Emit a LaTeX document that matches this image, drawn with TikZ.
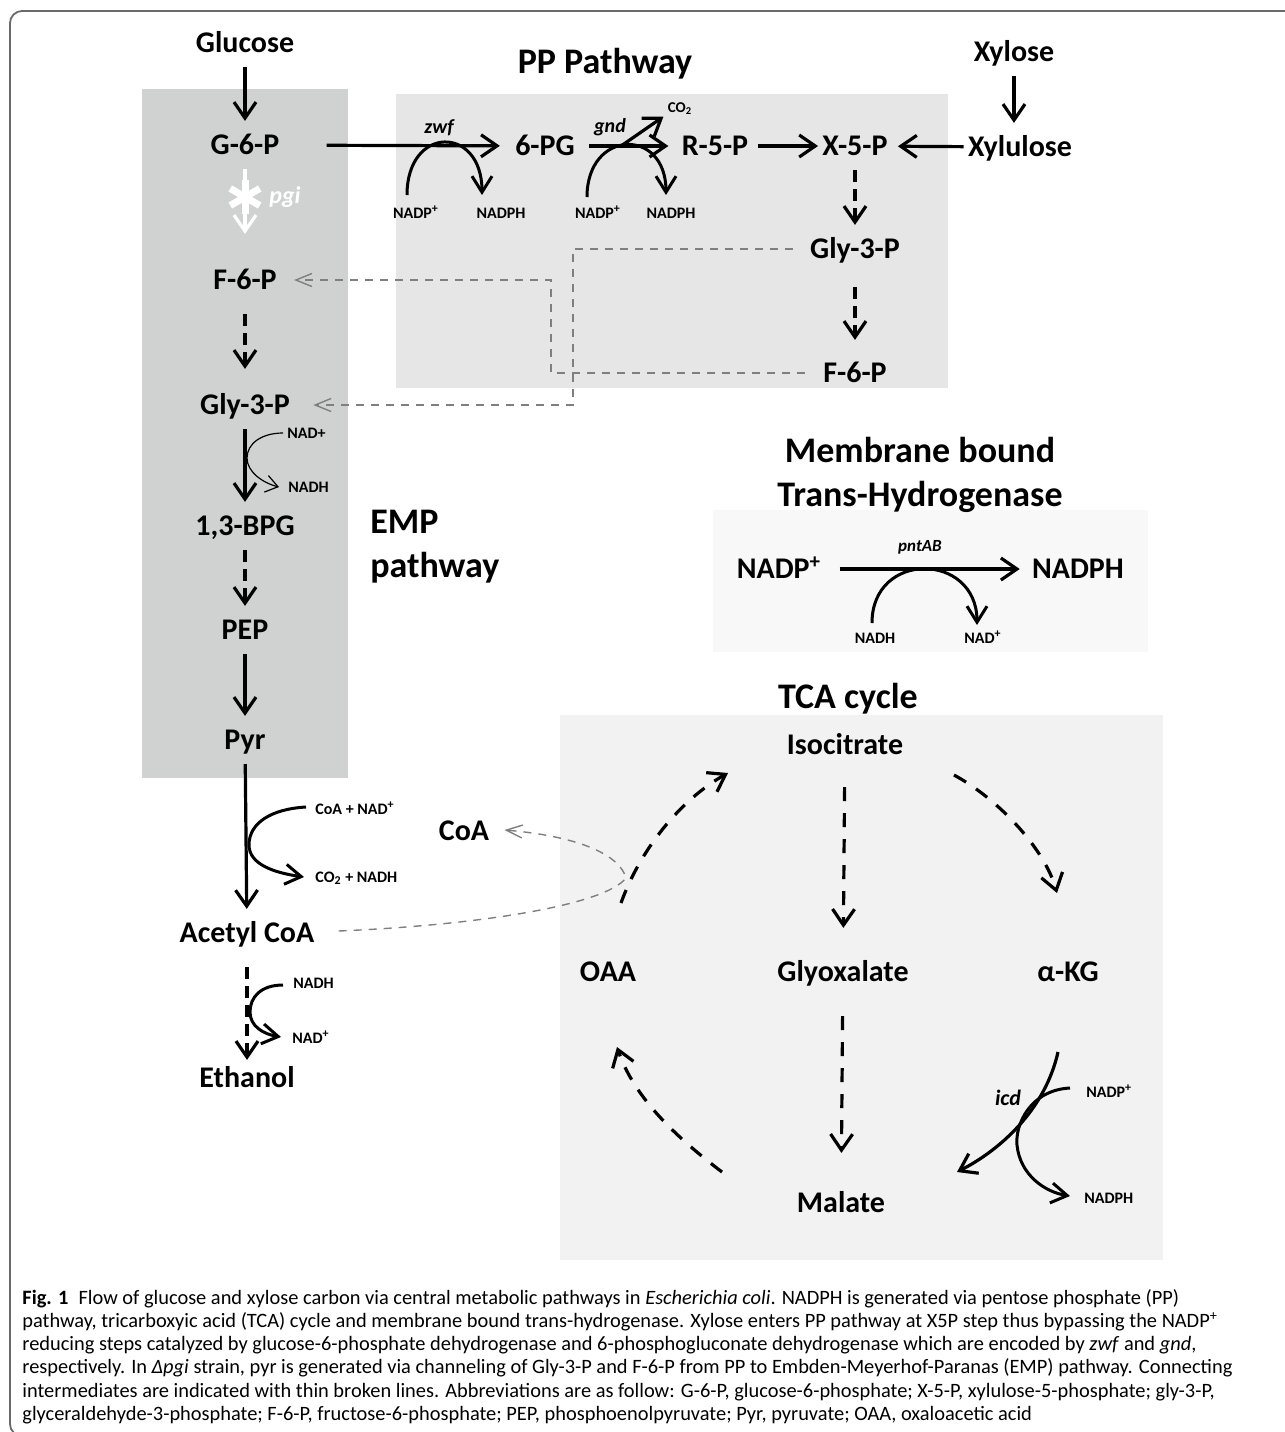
\documentclass[tikz,border=0pt]{standalone}
\usepackage{fontspec}
\setmainfont{Carlito}
\usepackage{xcolor}
\usepackage{tikz}
\usetikzlibrary{positioning,calc,arrows.meta}

\definecolor{empgray}{HTML}{D0D2D1}
\definecolor{ppgray}{HTML}{E6E6E6}
\definecolor{memgray}{HTML}{F8F8F8}
\definecolor{tcagray}{HTML}{F2F2F2}
\definecolor{linkgray}{HTML}{7F7F7F}
\definecolor{framegray}{HTML}{6A6A6A}

\begin{document}
\begin{tikzpicture}[x=0.5pt, y=-0.5pt,
    met/.style={font=\bfseries\fontsize{15}{18}\selectfont, text height=9.7pt, text depth=0pt, inner xsep=2pt, inner ysep=7pt},
    cof/.style={font=\bfseries\fontsize{8}{10}\selectfont, text height=5.2pt, text depth=0pt, inner sep=2pt},
    gene/.style={font=\bfseries\itshape\fontsize{10}{12}\selectfont, inner sep=0pt},
    title/.style={font=\bfseries\fontsize{18}{22}\selectfont, inner sep=0pt},
    flux/.style={line width=1.6pt, -{Straight Barb[length=8pt,width=11pt]}},
    fluxd/.style={flux, dash pattern=on 6pt off 3.5pt},
    tcad/.style={flux, dash pattern=on 7pt off 6pt},
    cofarc/.style={line width=1.5pt, -{Straight Barb[length=8pt,width=10pt]}},
    thinarc/.style={line width=0.6pt, -{Straight Barb[length=6pt,width=8.5pt]}},
    link/.style={draw=linkgray, line width=0.7pt, dash pattern=on 4pt off 3.5pt, -{Straight Barb[length=8pt,width=6.5pt]}}]

    \useasboundingbox (0,0) rectangle (1285,1432);
    \clip (0,0) rectangle (1285,1432);
    \draw [framegray, line width=0.9pt, rounded corners=6pt] (1320,11) -- (10,11) -- (10,1436) -- (1320,1436);

    \fill [empgray] (142,89) rectangle (348,778);
    \fill [ppgray] (396,94) rectangle (948,388);
    \fill [memgray] (713,510) rectangle (1148,652);
    \fill [tcagray] (560,715) rectangle (1163,1260);

    \node [title, anchor=base] (pptitle) at (605,73) {PP Pathway};
    \node [title, anchor=west, align=left] (emptitle) at (370,547) {EMP\\pathway};
    \node [title, align=center] (memtitle) at (920,475) {Membrane bound\\Trans-Hydrogenase};
    \node [title, anchor=base] (tcatitle) at (848,708) {TCA cycle};

    \node [met] (glc) at (245,43) {Glucose};
    \node [met] (g6p) at (245,145) {G-6-P};
    \node [met] (f6p) at (245,280) {F-6-P};
    \node [met] (glya) at (245,405) {Gly-3-P};
    \node [met] (bpg) at (245,526) {1,3-BPG};
    \node [met] (pep) at (245,630) {PEP};
    \node [met] (pyr) at (245,740) {Pyr};
    \node [met] (acoa) at (247,933) {Acetyl CoA};
    \node [met] (etoh) at (247,1078) {Ethanol};

    \node [met] (pg6) at (545,146) {6-PG};
    \node [met] (r5p) at (715,146) {R-5-P};
    \node [met] (x5p) at (855,146) {X-5-P};
    \node [met] (xylu) at (1020,147) {Xylulose};
    \node [met] (xyl) at (1014,52) {Xylose};
    \node [met] (glyb) at (855,249) {Gly-3-P};
    \node [met] (f6pb) at (855,373) {F-6-P};

    \node [met] (coa) at (464,831) {CoA};
    \node [met] (iso) at (845,745) {Isocitrate};
    \node [met] (glx) at (843,972) {Glyoxalate};
    \node [met] (oaa) at (608,972) {OAA};
    \node [met] (akg) at (1068,972) {α-KG};
    \node [met] (mal) at (841,1203) {Malate};

    \node [met] (nadpt) at (779,569) {NADP\textsuperscript{+}};
    \node [met] (nadpht) at (1078,569) {NADPH};

    \node [cof] (nadpa) at (416,213) {NADP\textsuperscript{+}};
    \node [cof] (nadpha) at (501,213) {NADPH};
    \node [cof] (nadpb) at (598,213) {NADP\textsuperscript{+}};
    \node [cof] (nadphb) at (671,213) {NADPH};
    \node [cof, font=\bfseries\fontsize{7.5}{8}\selectfont] (co2) at (680,107) {CO\textsubscript{2}};
    \node [cof, anchor=west] (nadc) at (283,433) {NAD+};
    \node [cof, anchor=west] (nadhc) at (284,487) {NADH};
    \node [cof, anchor=west] (cofd) at (311,809) {CoA + NAD\textsuperscript{+}};
    \node [cof, anchor=west] (cofe) at (311,877) {CO\textsubscript{2} + NADH};
    \node [cof, anchor=west] (nadhe) at (289,983) {NADH};
    \node [cof, anchor=west] (nade) at (288,1038) {NAD\textsuperscript{+}};
    \node [cof] (nadht) at (875,638) {NADH};
    \node [cof] (nadt) at (983,638) {NAD\textsuperscript{+}};
    \node [cof, anchor=west] (nadpi) at (1082,1092) {NADP\textsuperscript{+}};
    \node [cof, anchor=west] (nadphi) at (1080,1198) {NADPH};

    \node [gene] (zwf) at (439,128) {zwf};
    \node [gene] (gnd) at (610,127) {gnd};
    \node [gene, text=white, font=\bfseries\itshape\fontsize{12}{14}\selectfont] (pgi) at (285,197) {pgi};
    \node [gene, font=\bfseries\itshape\fontsize{8.5}{10}\selectfont] (pntab) at (920,547) {pntAB};
    \node [gene, font=\bfseries\itshape\fontsize{11}{13}\selectfont] (icd) at (1008,1098) {icd};

    \draw [flux] (glc) -- (g6p);
    \draw [flux, white, shorten >=11pt] (g6p) -- (f6p);
    \coordinate (pgix) at (245,197);
    \foreach \ang in {30,90,150}
        \draw [white, line width=3.5pt] (pgix) ++(\ang:17) -- ++(\ang+180:34);
    \draw [fluxd, shorten <=5pt, shorten >=6pt] (f6p) -- (glya);
    \draw [flux] (glya) -- (bpg);
    \draw [fluxd] (bpg) -- (pep);
    \draw [flux] (pep) -- (pyr);
    \draw [flux] (pyr) -- (acoa);
    \draw [fluxd, shorten <=5pt, shorten >=-3pt] (acoa) -- (etoh);

    \draw [flux, shorten <=21.5pt, shorten >=5.5pt] (g6p) -- (pg6);
    \draw [flux, shorten <=5pt, shorten >=4.5pt] (pg6) -- (r5p);
    \draw [flux, shorten <=2.5pt] (r5p) -- (x5p);
    \draw [flux, shorten >=3pt] (xylu) -- (x5p);
    \draw [flux] (xyl) -- (xyl |- xylu.north);
    \draw [fluxd] (x5p) -- (glyb);
    \draw [fluxd, shorten <=7pt, shorten >=4.5pt] (glyb) -- (f6pb);
    \coordinate (gndfork) at (621,146);
    \draw [flux] (gndfork) -- (co2.south west);

    \draw [cofarc] ($(nadpa)+(-9,-18)$) .. controls +(0,-70) and +(0,-70) .. ($(nadpha)+(-19,-18)$);
    \draw [cofarc] ($(nadpb)+(-11,-16)$) .. controls +(0,-68) and +(0,-68) .. ($(nadphb)+(-5,-18)$);
    \draw [thinarc] (nadc.west) .. controls +(-22,0) and +(0,-14) .. (247,458) .. controls +(0,14) and +(-16,-4) .. ($(nadhc.west)+(-5,0)$);
    \draw [cofarc] ($(cofd.west)+(-5,-2)$) .. controls +(-35,2) and +(0,-22) .. (249,845) .. controls +(0,20) and +(-28,-4) .. ($(cofe.west)+(-7,0)$);
    \draw [cofarc] ($(nadhe.west)+(-6,2)$) .. controls +(-22,0) and +(0,-15) .. (250,1012) .. controls +(0,14) and +(-18,-3) .. ($(nade.west)+(-7,-1)$);

    \draw [link, shorten <=6.5pt] (glyb.west) -- (573,249) |- ([xshift=9.5pt]glya.east);
    \draw [link, shorten <=7pt] (f6pb.west) -- (551,373) |- ([xshift=6.5pt]f6p.east);
    \draw [link] ($(acoa.east)+(20,-2)$) .. controls (480,925) and (605,905) .. (626,878) .. controls (618,850) and (565,835) .. ($(coa.east)+(11,-1)$);

    \draw [flux, shorten <=7pt, shorten >=4pt] (nadpt) -- (nadpht);
    \draw [cofarc] ($(nadht)+(-3,-15)$) .. controls +(0,-73) and +(0,-73) .. ($(nadt)+(-6,-13)$);

    \draw [tcad] ($(oaa)+(13,-69)$) .. controls +(19,-53) and +(-48,27) .. ($(iso)+(-117,28)$);
    \draw [tcad, shorten <=9pt, shorten >=10pt] (iso) -- (glx);
    \draw [tcad] ($(iso)+(109,30)$) .. controls +(46,25) and +(-12,-43) .. ($(akg)+(-11,-79)$);
    \draw [tcad, shorten <=10pt, shorten >=13pt] (glx) -- (mal);
    \draw [flux] ($(akg)+(-10,80)$) .. controls +(-13,58) and +(43,-22) .. ($(mal)+(116,-31)$);
    \draw [tcad] ($(mal)+(-119,-31)$) .. controls +(-42,-32) and +(18,53) .. ($(oaa)+(9,75)$);
    \draw [cofarc] ($(nadpi.west)+(-12,-4)$) .. controls +(-40,2) and +(-2,-20) .. (1017,1145) .. controls +(3,30) and +(-25,-4) .. ($(nadphi.west)+(-10,-2)$);

    \node [anchor=north west, align=left, inner sep=0pt, font=\fontsize{10.2}{11.6}\selectfont] (caption) at (22,1289) {\textbf{Fig. 1}\enspace Flow of glucose and xylose carbon via central metabolic pathways in \textit{Escherichia coli}. NADPH is generated via pentose phosphate (PP)\\
pathway, tricarboxyic acid (TCA) cycle and membrane bound trans-hydrogenase. Xylose enters PP pathway at X5P step thus bypassing the NADP\textsuperscript{+}\\
reducing steps catalyzed by glucose-6-phosphate dehydrogenase and 6-phosphogluconate dehydrogenase which are encoded by \textit{zwf} and \textit{gnd},\\
respectively. In \textit{Δpgi} strain, pyr is generated via channeling of Gly-3-P and F-6-P from PP to Embden-Meyerhof-Paranas (EMP) pathway. Connecting\\
intermediates are indicated with thin broken lines. Abbreviations are as follow: G-6-P, glucose-6-phosphate; X-5-P, xylulose-5-phosphate; gly-3-P,\\
glyceraldehyde-3-phosphate; F-6-P, fructose-6-phosphate; PEP, phosphoenolpyruvate; Pyr, pyruvate; OAA, oxaloacetic acid};
\end{tikzpicture}
\end{document}
